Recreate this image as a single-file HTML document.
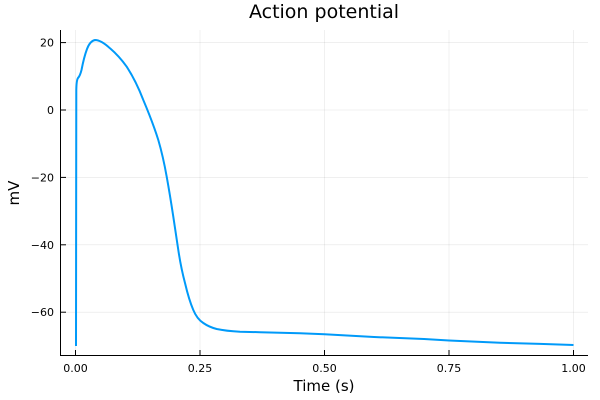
<!DOCTYPE html>
<html><head><meta charset="utf-8"><style>
body{margin:0;background:#fff}
svg{display:block;font-family:"DejaVu Sans","Liberation Sans",sans-serif}
</style></head><body>
<svg width="600" height="400" viewBox="0 0 600 400">
<rect width="600" height="400" fill="#fff"/>
<g stroke="#000" stroke-opacity="0.1" stroke-width="0.6">
<line x1="75.5" y1="30" x2="75.5" y2="355"/>
<line x1="200" y1="30" x2="200" y2="355"/>
<line x1="324.5" y1="30" x2="324.5" y2="355"/>
<line x1="449" y1="30" x2="449" y2="355"/>
<line x1="573.5" y1="30" x2="573.5" y2="355"/>
<line x1="60.5" y1="42.6" x2="588" y2="42.6"/>
<line x1="60.5" y1="110" x2="588" y2="110"/>
<line x1="60.5" y1="177.4" x2="588" y2="177.4"/>
<line x1="60.5" y1="244.8" x2="588" y2="244.8"/>
<line x1="60.5" y1="312.2" x2="588" y2="312.2"/>
</g>
<g stroke="#000" stroke-width="1">
<line x1="60.5" y1="30" x2="60.5" y2="355.5"/>
<line x1="60" y1="355.5" x2="588" y2="355.5"/>
<line x1="75.5" y1="355" x2="75.5" y2="350"/>
<line x1="200" y1="355" x2="200" y2="350"/>
<line x1="324.5" y1="355" x2="324.5" y2="350"/>
<line x1="449" y1="355" x2="449" y2="350"/>
<line x1="573.5" y1="355" x2="573.5" y2="350"/>
<line x1="61" y1="42.6" x2="66" y2="42.6"/>
<line x1="61" y1="110" x2="66" y2="110"/>
<line x1="61" y1="177.4" x2="66" y2="177.4"/>
<line x1="61" y1="244.8" x2="66" y2="244.8"/>
<line x1="61" y1="312.2" x2="66" y2="312.2"/>
</g>
<g font-size="11" fill="#000" text-anchor="middle">
<text x="75.5" y="372">0.00</text>
<text x="200" y="372">0.25</text>
<text x="324.5" y="372">0.50</text>
<text x="449" y="372">0.75</text>
<text x="573.5" y="372">1.00</text>
</g>
<g font-size="11" fill="#000" text-anchor="end">
<text x="54" y="46.5">20</text>
<text x="54" y="114">0</text>
<text x="54" y="181.5">−20</text>
<text x="54" y="249">−40</text>
<text x="54" y="316">−60</text>
</g>
<text x="324" y="391" font-size="15" text-anchor="middle">Time (s)</text>
<text x="19" y="193" font-size="15" text-anchor="middle" transform="rotate(-90 19 193)">mV</text>
<text x="324" y="18" font-size="19" text-anchor="middle">Action potential</text>
<path fill="none" stroke="#009af9" stroke-width="2" stroke-linejoin="round"
d="M76 346 L76.3 90 Q76.5 80 78 78 Q80 76 81.5 70 Q84 57 87 49 Q90 41 95 40 Q101 40 110 48.3 Q119 56 126.7 66.7 Q136 81 143.3 100 Q153 123 158.3 140 Q163 156 166.7 176.7 Q170 195 173.3 216.7 Q176 235 178.3 250 Q181 268 185 283 Q189 300 193.3 310 Q197 319 203.3 323 Q209 327 216.7 329 Q226 331 240 331.7 L260 332.2 L300 333.3 L324.5 334.3 L374 337 L424 339 L449 340.5 L500 342.7 L540 343.9 L573.5 345"/>
</svg>
</body></html>
